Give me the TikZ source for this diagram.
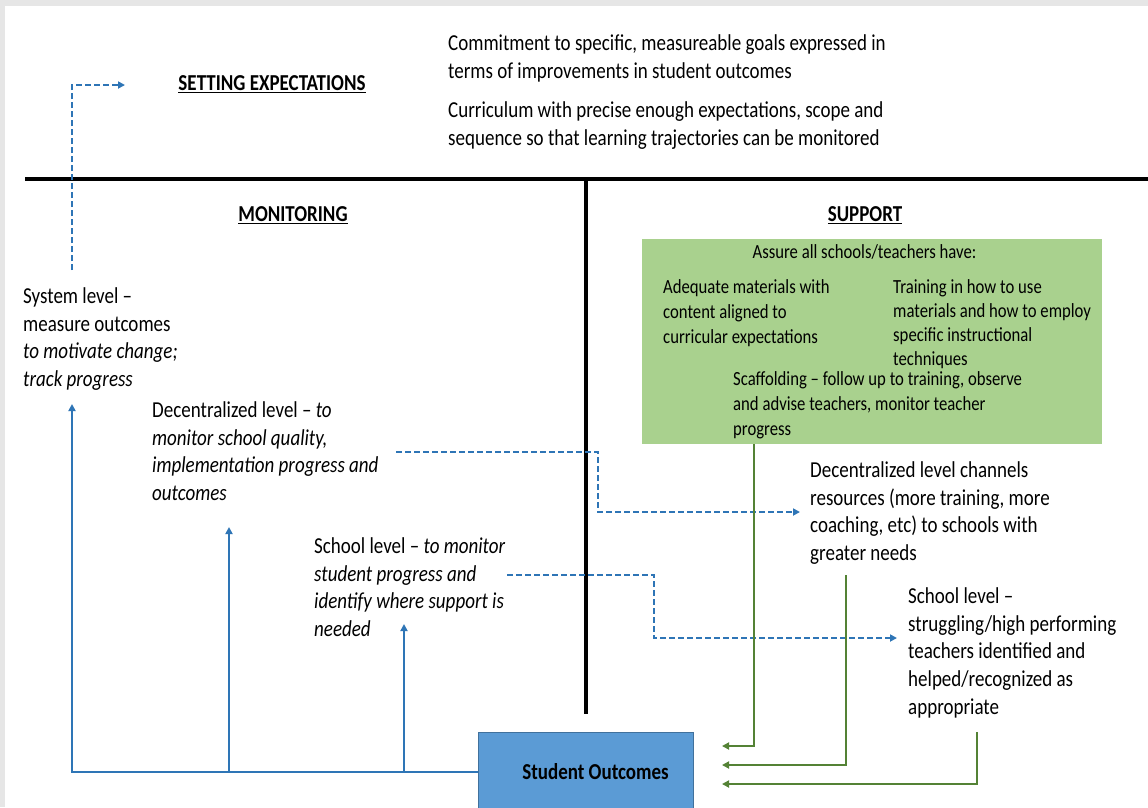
\documentclass[tikz,border=0pt]{standalone}
\usepackage{fontspec}
\usepackage{graphicx}
\setmainfont{Carlito}
\usetikzlibrary{arrows.meta}
\definecolor{bggray}{HTML}{E6E6E6}
\definecolor{gfill}{HTML}{A9D18E}
\definecolor{bfill}{HTML}{5B9BD5}
\definecolor{bedge}{HTML}{41719C}
\definecolor{bline}{HTML}{2E75B6}
\definecolor{gline}{HTML}{548235}
\newcommand{\tst}{\rule{0pt}{15pt}}
\newcommand{\gst}{\rule{0pt}{13pt}}
\begin{document}
\begin{tikzpicture}[x=1pt,y=-1pt,
  txt/.style={anchor=north west, inner sep=0pt, align=left, yscale=1.2, font=\fontsize{19}{23.2}\selectfont},
  gtxt/.style={anchor=north west, inner sep=0pt, align=left, yscale=1.2, font=\fontsize{16.7}{20.8}\selectfont},
  head/.style={anchor=base, inner sep=0pt, yscale=1.2, font=\fontsize{19}{23}\selectfont\bfseries},
  sepline/.style={line width=3.3pt, black},
  bsolid/.style={draw=bline, line width=2pt},
  tip/.style={-{Triangle[length=7pt,width=7pt]}},
  barrow/.style={bsolid, tip},
  bdash/.style={draw=bline, line width=1.8pt, dash pattern=on 6pt off 3pt, tip},
  garrow/.style={draw=gline, line width=2pt, tip},
]
\clip (0,0) rectangle (1148,807);
\fill[bggray] (0,0) rectangle (1148,807);
\fill[white] (5,6) rectangle (1148,807);

% setting expectations
\node[head] (setexp) at (272,90) {\underline{SETTING EXPECTATIONS}};
\node[txt] (goals) at (448,32.7) {\tst Commitment to specific, measureable goals expressed in\\terms of improvements in student outcomes};
\node[txt] (curr) at (448,99.3) {\tst Curriculum with precise enough expectations, scope and\\sequence so that learning trajectories can be monitored};

% separators
\coordinate (hl) at (25,179);
\coordinate (hr) at (1150,179);
\coordinate (vt) at (586,179);
\coordinate (vb) at (586,714);
\draw[sepline] (hl) -- (hr);
\draw[sepline] (vt) -- (vb);

\node[head] (mon) at (293,221) {\underline{MONITORING}};
\node[head] (sup) at (865,221) {\underline{SUPPORT}};

% support box
\node[fill=gfill, anchor=north west, minimum width=460pt, minimum height=205pt, inner sep=0pt] (gbox) at (642,239) {};
\node[gtxt, anchor=north] (assure) at (864.5,242.4) {\gst Assure all schools/teachers have:};
\node[gtxt] (mat) at (663,277.4) {\gst Adequate materials with\\content aligned to\\curricular expectations};
\node[gtxt, font=\fontsize{16.7}{20}\selectfont] (train) at (893,277.4) {\gst Training in how to use\\materials and how to employ\\specific instructional\\techniques};
\node[gtxt] (scaf) at (733,369.6) {\gst Scaffolding -- follow up to training, observe\\and advise teachers, monitor teacher\\progress};

% monitoring texts
\node[txt] (sys) at (23,285) {\tst System level --\\measure outcomes\\\textit{to motivate change;}\\\textit{track progress}};
\node[txt] (dec) at (152,399) {\tst Decentralized level -- \textit{to}\\\textit{monitor school quality,}\\\textit{implementation progress and}\\\textit{outcomes}};
\node[txt] (sch) at (314,535) {\tst School level -- \textit{to monitor}\\\textit{student progress and}\\\textit{identify where support is}\\\textit{needed}};

% support texts
\node[txt] (chan) at (810,459) {\tst Decentralized level channels\\resources (more training, more\\coaching, etc) to schools with\\greater needs};
\node[txt] (schr) at (908,585) {\tst School level --\\struggling/high performing\\teachers identified and\\helped/recognized as\\appropriate};

% student outcomes
\node[draw=bedge, line width=1pt, fill=bfill, anchor=north west, minimum width=215pt, minimum height=78pt, inner sep=0pt, font=\fontsize{19}{23}\selectfont\bfseries] (so) at (478,732) {\hspace*{19pt}\scalebox{1}[1.2]{Student Outcomes}};

% monitoring arrows
\coordinate (a1) at (72,404);
\coordinate (a2) at (229,527);
\coordinate (a3) at (404,624);
\draw[barrow] (so.west) -| (a1);
\draw[barrow] (so.west -| a2) -- (a2);
\draw[barrow] (so.west -| a3) -- (a3);

% dashed links
\coordinate (d0s) at (72,270);
\coordinate (d0e) at (125,85);
\draw[bdash] (d0s) |- (d0e);
\coordinate (d1s) at (396,452);
\coordinate (d1k) at (598,512);
\coordinate (d1e) at (800,512);
\draw[bdash] (d1s) -| (d1k) -- (d1e);
\coordinate (d2s) at (507,575);
\coordinate (d2k) at (654,638);
\coordinate (d2e) at (897,638);
\draw[bdash] (d2s) -| (d2k) -- (d2e);

% green feedback arrows
\coordinate (g1e) at (722,746);
\coordinate (g2s) at (846,575);
\coordinate (g2e) at (722,765);
\coordinate (g3s) at (977,732);
\coordinate (g3e) at (722,784);
\draw[garrow] ([xshift=112pt]gbox.south west) |- (g1e);
\draw[garrow] (g2s) |- (g2e);
\draw[garrow] (g3s) |- (g3e);
\end{tikzpicture}
\end{document}
